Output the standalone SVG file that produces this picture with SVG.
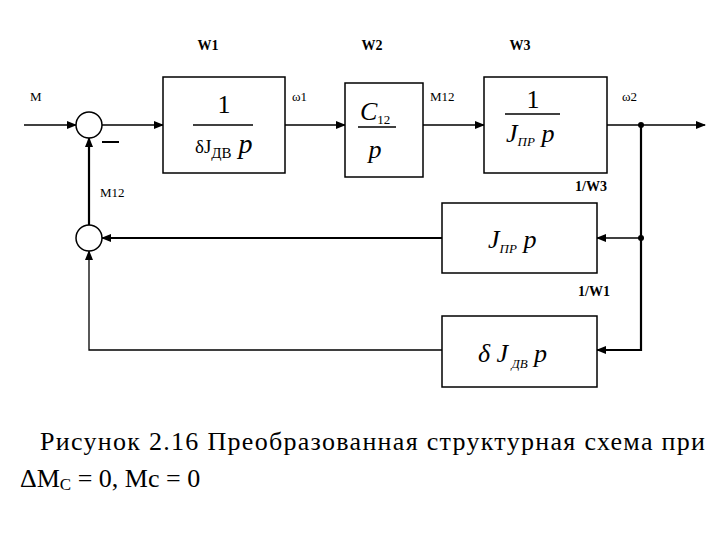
<svg xmlns="http://www.w3.org/2000/svg" width="720" height="540" viewBox="0 0 720 540">
<defs>
<marker id="a" markerWidth="10" markerHeight="8" refX="9" refY="4" orient="auto" markerUnits="userSpaceOnUse"><path d="M0,0 L10,4 L0,8 z" fill="#000"/></marker>
<style>
.b{fill:#fff;stroke:#000;stroke-width:1.5}
.l{fill:none;stroke:#000;stroke-width:1.3}
.t{stroke-width:2.2}
.s{font-family:"Liberation Serif",serif;font-size:13px}
.h{font-family:"Liberation Serif",serif;font-size:14px;font-weight:bold}
.m{font-family:"Liberation Serif",serif;font-size:26px}
.i{font-style:italic}
.c{font-family:"Liberation Serif",serif;font-size:26px}
</style>
</defs>
<rect width="720" height="540" fill="#fff"/>
<g id="connectors">
<line class="l" x1="24" y1="125" x2="76" y2="125" marker-end="url(#a)"/>
<line class="l" x1="102" y1="125" x2="163" y2="125" marker-end="url(#a)"/>
<line class="l" x1="285" y1="125" x2="345" y2="125" marker-end="url(#a)"/>
<line class="l" x1="423" y1="125" x2="484" y2="125" marker-end="url(#a)"/>
<line class="l" x1="607" y1="125" x2="705" y2="125" marker-end="url(#a)"/>
<polyline class="l t" points="641,125 641,350 597,350" marker-end="url(#a)"/>
<line class="l" x1="641" y1="238" x2="597" y2="238" marker-end="url(#a)"/>
<line class="l t" x1="442" y1="238" x2="102" y2="238" marker-end="url(#a)"/>
<polyline class="l" points="442,350 89,350 89,251" marker-end="url(#a)"/>
<line class="l t" x1="89" y1="225" x2="89" y2="138" marker-end="url(#a)"/>
<circle cx="641" cy="125" r="3"/><circle cx="641" cy="238" r="3"/>
<line x1="102" y1="142" x2="119" y2="142" stroke="#000" stroke-width="2"/>
</g>
<g id="sum1"><circle class="b" cx="89" cy="125" r="13"/></g>
<g id="sum2"><circle class="b" cx="89" cy="238" r="13"/></g>
<g id="W1box"><rect class="b" x="163" y="77" width="122" height="96"/>
<text class="m" x="224" y="113" text-anchor="middle">1</text>
<line x1="193" y1="125" x2="253" y2="125" stroke="#000" stroke-width="1.3"/>
<text x="195" y="153" class="s" style="font-size:19px">δJ<tspan dy="5" font-size="15">ДВ</tspan><tspan dy="-5" class="i" font-size="28"> p</tspan></text></g>
<g id="W2box"><rect class="b" x="345" y="83" width="78" height="94"/>
<text x="360" y="120" class="m i">C<tspan class="s" font-style="normal" font-size="16" dy="4">12</tspan></text>
<line x1="358" y1="127" x2="396" y2="127" stroke="#000" stroke-width="1.5"/>
<text x="375" y="158" class="m i" text-anchor="middle">p</text></g>
<g id="W3box"><rect class="b" x="484" y="77" width="123" height="96"/>
<text class="m" x="533" y="108" text-anchor="middle">1</text>
<line x1="505" y1="114" x2="560" y2="114" stroke="#000" stroke-width="1.3"/>
<text x="506" y="142" class="m i">J<tspan font-size="13" dy="4">ПР</tspan><tspan dy="-4"> p</tspan></text></g>
<g id="invW3box"><rect class="b" x="442" y="203" width="155" height="70"/>
<text x="488" y="248" class="m i">J<tspan font-size="13" dy="5">ПР</tspan><tspan dy="-5"> p</tspan></text></g>
<g id="invW1box"><rect class="b" x="442" y="316" width="155" height="71"/>
<text x="478" y="362" class="m i">δ J<tspan font-size="13" dy="6"> ДВ</tspan><tspan dy="-6"> p</tspan></text></g>
<g id="labels">
<text class="h" x="208" y="50" text-anchor="middle">W1</text>
<text class="h" x="372" y="50" text-anchor="middle">W2</text>
<text class="h" x="520" y="50" text-anchor="middle">W3</text>
<text class="s" x="30" y="101">M</text>
<text class="s" x="292" y="101">ω1</text>
<text class="s" x="430" y="101">M12</text>
<text class="s" x="622" y="101">ω2</text>
<text class="s" x="100" y="197">M12</text>
<text class="h" x="575" y="191">1/W3</text>
<text class="h" x="578" y="296">1/W1</text>
</g>
<text class="c" x="40" y="450" textLength="665">Рисунок 2.16 Преобразованная структурная схема при</text>
<text class="c" x="20" y="487">ΔM<tspan font-size="17" dy="3">C</tspan><tspan dy="-3"> = 0, Mc = 0</tspan></text>
</svg>
